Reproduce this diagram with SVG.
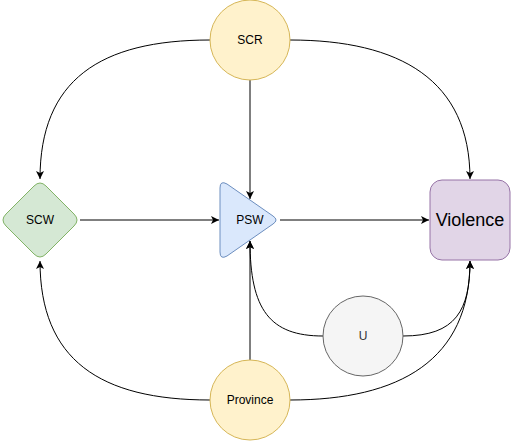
<svg xmlns="http://www.w3.org/2000/svg" width="511" height="441" viewBox="0 0 511 441">
<style>
.edge{fill:none;stroke:#000;stroke-width:1}
.lbl{font-family:"Liberation Sans",Arial,sans-serif;font-size:12px;text-anchor:middle;dominant-baseline:central;fill:#000}
</style>
<defs>
<marker id="arr" viewBox="0 0 10 10" refX="10" refY="5" markerWidth="8" markerHeight="8" markerUnits="userSpaceOnUse" orient="auto">
<path d="M0,0 L10,5 L0,10 L2.5,5 Z" fill="#000"/>
</marker>
</defs>
<rect width="511" height="441" fill="#fff"/>
<g id="connectors">
<path class="edge" d="M210,40 C100,40 40,80 40,179" marker-end="url(#arr)"/>
<path class="edge" d="M290,40 C400,40 470,80 470,179" marker-end="url(#arr)"/>
<path class="edge" d="M250,80 L250,199" marker-end="url(#arr)"/>
<path class="edge" d="M80,220 L219,220" marker-end="url(#arr)"/>
<path class="edge" d="M280,220 L429,220" marker-end="url(#arr)"/>
<path class="edge" d="M323,336 C270,336 250,310 250,241" marker-end="url(#arr)"/>
<path class="edge" d="M403,336 C456,336 470,310 470,261" marker-end="url(#arr)"/>
<path class="edge" d="M250,360 L250,241" marker-end="url(#arr)"/>
<path class="edge" d="M210,400 C100,400 40,360 40,261" marker-end="url(#arr)"/>
<path class="edge" d="M290,400 C400,400 470,360 470,261" marker-end="url(#arr)"/>
</g>
<g id="SCR">
<circle cx="250" cy="40" r="40" fill="#fff2cc" stroke="#d6b656"/>
<text class="lbl" x="250" y="40">SCR</text>
</g>
<g id="SCW">
<path d="M34,186 Q40,180 46,186 L74,214 Q80,220 74,226 L46,254 Q40,260 34,254 L6,226 Q0,220 6,214 Z" fill="#d5e8d4" stroke="#82b366"/>
<text class="lbl" x="40" y="220">SCW</text>
</g>
<g id="PSW">
<path d="M220,188 Q220,180 227,184 L273,216 Q279,220 273,224 L227,256 Q220,260 220,252 Z" fill="#dae8fc" stroke="#6c8ebf"/>
<text class="lbl" x="250" y="220">PSW</text>
</g>
<g id="Violence">
<rect x="430" y="180" width="80" height="80" rx="12" ry="12" fill="#e1d5e7" stroke="#9673a6"/>
<text class="lbl" x="470" y="220" style="font-size:18px">Violence</text>
</g>
<g id="U">
<circle cx="363" cy="336" r="40" fill="#f5f5f5" stroke="#666666"/>
<text class="lbl" x="363" y="336" style="fill:#333333">U</text>
</g>
<g id="Province">
<circle cx="250" cy="400" r="40" fill="#fff2cc" stroke="#d6b656"/>
<text class="lbl" x="250" y="400">Province</text>
</g>
</svg>
